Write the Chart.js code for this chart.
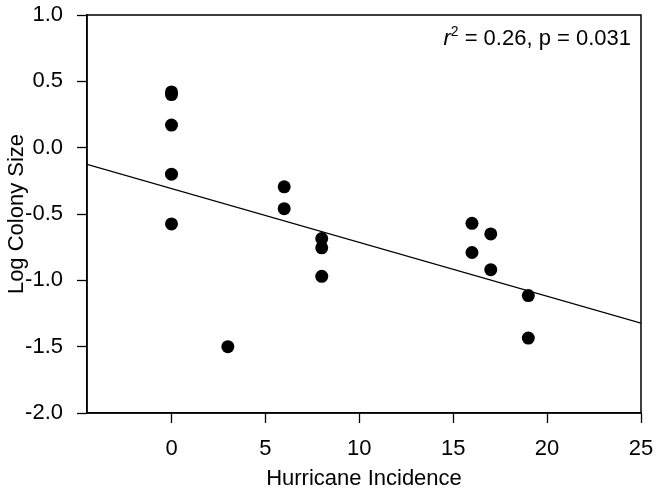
<!DOCTYPE html>
<html>
<head>
<meta charset="utf-8">
<script src="https://cdn.jsdelivr.net/npm/chart.js@4.4.1/dist/chart.umd.min.js"></script>
<style>
  html, body { margin: 0; padding: 0; background: #fff; }
  #wrap { width: 658px; height: 492px; }
</style>
</head>
<body>
<div id="wrap"><canvas id="myChart" width="658" height="492"></canvas></div>
<script>
// Hurricane incidence vs log colony size
const hurricaneIncidence = [0, 0, 0, 0, 0, 3, 6, 6, 8, 8, 8, 16, 16, 17, 17, 19, 19];
const logColonySize = [0.42, 0.40, 0.17, -0.20, -0.575, -1.50, -0.295, -0.46, -0.685, -0.755, -0.97, -0.57, -0.79, -0.65, -0.92, -1.115, -1.435];

// Regression line end points
const fitX = [-4.5, 25];
const fitY = [-0.126, -1.322];

// Axis ticks
const xTicks = [0, 5, 10, 15, 20, 25];
const yTicks = [-2.0, -1.5, -1.0, -0.5, 0.0, 0.5, 1.0];

const FONT = 'Liberation Sans, Arial, sans-serif';

const points = hurricaneIncidence.map((x, i) => ({ x: x, y: logColonySize[i] }));
const fitLine = fitX.map((x, i) => ({ x: x, y: fitY[i] }));

// box round the plot + r^2 label
const framePlugin = {
    id: 'frame',
    afterDraw(chart) {
        const a = chart.chartArea;
        const c = chart.ctx;
        c.save();
        c.strokeStyle = '#000';
        c.lineWidth = 1.5;
        c.strokeRect(a.left, a.top, a.right - a.left, a.bottom - a.top);

        c.fillStyle = '#000';
        c.textBaseline = 'alphabetic';
        const base = a.top + 30;
        const rest = ' = 0.26, p = 0.031';
        c.font = '22px ' + FONT;
        const w3 = c.measureText(rest).width;
        c.font = '14px ' + FONT;
        const w2 = c.measureText('2').width;
        c.font = 'italic 22px ' + FONT;
        const w1 = c.measureText('r').width;
        let x = a.right - 10 - (w1 + w2 + w3);
        c.fillText('r', x, base);
        x += w1;
        c.font = '14px ' + FONT;
        c.fillText('2', x, base - 9);
        x += w2;
        c.font = '22px ' + FONT;
        c.fillText(rest, x, base);
        c.restore();
    }
};

const ctx = document.getElementById('myChart').getContext('2d');
const myChart = new Chart(ctx, {
    type: 'scatter',
    data: {
        datasets: [{
            label: 'Colonies',
            data: points,
            backgroundColor: '#000',
            borderColor: '#000',
            pointRadius: 6.5,
            pointHoverRadius: 6.5,
            borderWidth: 0,
        }, {
            type: 'line',
            label: 'Fit',
            data: fitLine,
            borderColor: '#000',
            borderWidth: 1.3,
            pointRadius: 0,
            fill: false,
        }]
    },
    options: {
        responsive: false,
        animation: false,
        layout: { padding: { top: 15, right: 17, left: 0, bottom: 0 } },
        plugins: {
            legend: { display: false },
            tooltip: { enabled: false },
        },
        scales: {
            x: {
                type: 'linear',
                min: -4.5,
                max: 25,
                afterBuildTicks: (s) => { s.ticks = xTicks.map(v => ({ value: v })); },
                afterFit: (s) => { s.height = 79; s.paddingLeft = 0; s.paddingRight = 0; },
                grid: { drawOnChartArea: false, drawTicks: true, tickLength: 10, color: '#000', tickWidth: 1.3 },
                border: { display: true, color: '#000', width: 1.5 },
                ticks: { color: '#000', padding: 13, font: { family: FONT, size: 22 }, maxRotation: 0 },
                title: { display: true, text: 'Hurricane Incidence', color: '#000', font: { family: FONT, size: 22 }, padding: { top: 0, bottom: 0 } },
            },
            y: {
                type: 'linear',
                min: -2,
                max: 1,
                afterBuildTicks: (s) => { s.ticks = yTicks.map(v => ({ value: v })); },
                afterFit: (s) => { s.width = 87; s.paddingTop = 0; s.paddingBottom = 0; },
                grid: { drawOnChartArea: false, drawTicks: true, tickLength: 10, color: '#000', tickWidth: 1.3 },
                border: { display: true, color: '#000', width: 1.5 },
                ticks: { color: '#000', padding: 14, font: { family: FONT, size: 22 }, callback: (v) => Number(v).toFixed(1) },
                title: { display: true, text: 'Log Colony Size', color: '#000', font: { family: FONT, size: 22 }, padding: { top: 4, bottom: 0 } },
            },
        },
    },
    plugins: [framePlugin],
});
</script>
</body>
</html>
